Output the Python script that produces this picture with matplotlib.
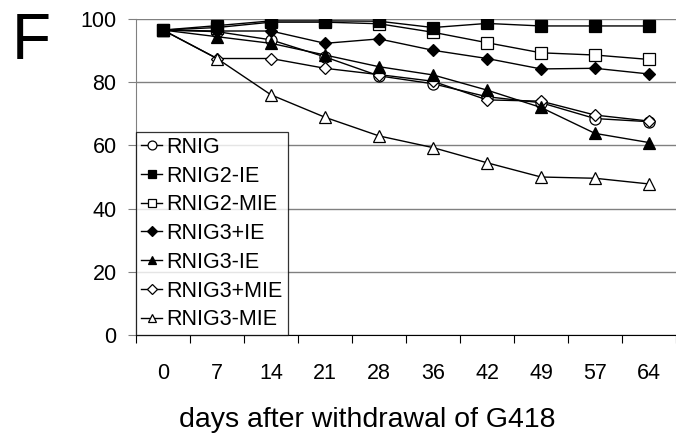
import matplotlib.pyplot as plt
import numpy as np

# survival (%) vs days after withdrawal of G418
DAYS = ['0', '7', '14', '21', '28', '36', '42', '49', '57', '64']
RNIG =      [96.5, 96.0, 93.4, 88.0, 82.0, 79.5, 75.4, 73.5, 68.5, 67.5]
RNIG2_IE =  [96.5, 97.9, 99.4, 99.4, 99.3, 97.3, 98.6, 97.8, 97.8, 97.8]
RNIG2_MIE = [96.5, 97.3, 99.0, 99.0, 98.5, 95.8, 92.5, 89.3, 88.6, 87.2]
RNIG3P_IE = [96.5, 96.2, 96.2, 92.3, 93.7, 90.1, 87.5, 84.2, 84.4, 82.6]
RNIG3_IE =  [96.5, 94.4, 92.3, 88.6, 84.9, 82.3, 77.5, 72.0, 63.8, 60.9]
RNIG3P_MIE = [96.5, 87.5, 87.5, 84.4, 82.4, 80.3, 74.4, 74.0, 69.6, 67.7]
RNIG3_MIE = [96.5, 87.5, 76.0, 68.9, 63.0, 59.3, 54.5, 50.0, 49.6, 47.8]

SERIES = [
    ('RNIG', RNIG, 'o', 'white'),
    ('RNIG2-IE', RNIG2_IE, 's', 'black'),
    ('RNIG2-MIE', RNIG2_MIE, 's', 'white'),
    ('RNIG3+IE', RNIG3P_IE, 'D', 'black'),
    ('RNIG3-IE', RNIG3_IE, '^', 'black'),
    ('RNIG3+MIE', RNIG3P_MIE, 'D', 'white'),
    ('RNIG3-MIE', RNIG3_MIE, '^', 'white'),
]

plt.rcParams['font.family'] = ['Liberation Sans', 'DejaVu Sans']

fig = plt.figure(figsize=(6.76, 4.37), dpi=100)
ax = fig.add_axes([136/676, 1 - 335/437, 540/676, 316/437])

x = np.arange(len(DAYS))
for name, vals, mk, fc in SERIES:
    ms = 8 if mk in ('s', 'o', '^') else 6.5
    z = 3 if fc == 'black' else 2.5
    ax.plot(x, vals, color='black', lw=1.0, marker=mk, ms=ms,
            mfc=fc, mec='black', mew=0.9, label=name, zorder=z)

ax.set_xlim(-0.5, len(DAYS) - 0.5)
ax.set_ylim(0, 100)
ax.set_yticks(np.arange(0, 101, 20))
ax.yaxis.grid(True, color='#808080', lw=1.0)
ax.set_axisbelow(True)

# category axis: tick marks on boundaries, labels in the middle
ax.set_xticks(np.arange(-0.5, len(DAYS), 1.0))
ax.set_xticklabels([])
ax.set_xticks(x, minor=True)
ax.set_xticklabels(DAYS, minor=True, fontsize=15.5)
ax.tick_params(axis='x', which='major', length=6, width=0.8, color='black', direction='out')
ax.tick_params(axis='x', which='minor', length=0, pad=20)
ax.tick_params(axis='y', length=6, width=0.8, color='#808080', pad=8, labelsize=15.5)

for s in ['top', 'right']:
    ax.spines[s].set_visible(False)
ax.spines['left'].set_color('#808080')
ax.spines['bottom'].set_color('black')

fig.text(367/676, 1 - 427/437, 'days after withdrawal of G418', fontsize=20.5,
         ha='center', va='baseline')

leg = ax.legend(loc='lower left', bbox_to_anchor=(0, 0), borderaxespad=0,
                fontsize=15.5, frameon=True, fancybox=False, handlelength=1.0,
                handletextpad=0.2, labelspacing=0.36, borderpad=0.22,
                markerscale=0.8)
leg.get_frame().set_edgecolor('black')
leg.get_frame().set_linewidth(0.9)

fig.text(12/676, 1 - 59/437, 'F', fontsize=46, ha='left', va='baseline')

fig.savefig('out.png', dpi=100)
